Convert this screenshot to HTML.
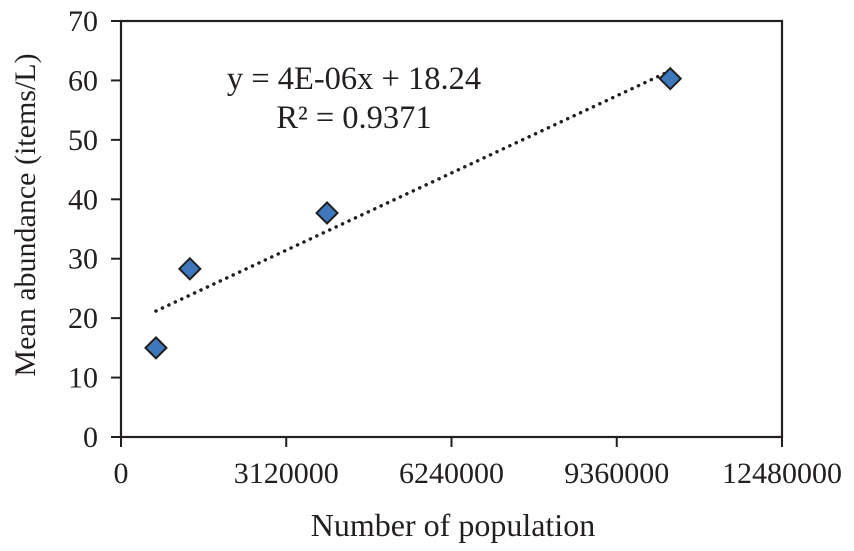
<!DOCTYPE html>
<html><head><meta charset="utf-8"><style>
body{margin:0;background:#fff;}
svg text{font-family:"Liberation Serif",serif;fill:#231f20;}
</style></head><body>
<svg id="chart" width="854" height="546" viewBox="0 0 854 546" xmlns="http://www.w3.org/2000/svg">
<rect x="121" y="21" width="661" height="416" fill="none" stroke="#231f20" stroke-width="2.2"/>
<g id="axes"></g>
<g id="trend"></g>
<g id="marks"></g>
<text x="354" y="89" font-size="32.5" text-anchor="middle">y = 4E-06x + 18.24</text>
<text x="354" y="128" font-size="32.5" text-anchor="middle">R² = 0.9371</text>
<text x="453" y="536" font-size="32" text-anchor="middle">Number of population</text>
<text transform="translate(35,215) rotate(-90)" font-size="30" text-anchor="middle">Mean abundance (items/L)</text>
</svg>
<script>
const xValues = [660000, 1300000, 3890000, 10370000];
const yValues = [15.0, 28.3, 37.7, 60.3];
const xTicks = [0, 3120000, 6240000, 9360000, 12480000];
const yTicks = [0, 10, 20, 30, 40, 50, 60, 70];

const X0=121, X1=782, Y0=437, Y1=21;
const xMax=12480000, yMax=70;
const sx=v=>X0+(X1-X0)*v/xMax;
const sy=v=>Y0-(Y0-Y1)*v/yMax;
const NS="http://www.w3.org/2000/svg";
function mk(tag,attrs,parent){const e=document.createElementNS(NS,tag);for(const k in attrs)e.setAttribute(k,attrs[k]);parent.appendChild(e);return e;}
const axes=document.getElementById('axes');
yTicks.forEach(t=>{
  const l=mk('line',{x1:X0-10,x2:X0,y1:sy(t),y2:sy(t),stroke:'#231f20','stroke-width':2},axes);
  
  
  const tx=mk('text',{x:X0-23,y:sy(t)+10,'font-size':30,'text-anchor':'end'},axes);
  tx.textContent=t;
  
  
});
xTicks.forEach(t=>{
  const l=mk('line',{x1:sx(t),x2:sx(t),y1:Y0,y2:Y0+10,stroke:'#231f20','stroke-width':2},axes);
  
  
  const tx=mk('text',{x:sx(t),y:Y0+46,'font-size':30,'text-anchor':'middle'},axes);
  tx.textContent=t;
  
  
});
const n=xValues.length;
const mx=xValues.reduce((a,b)=>a+b,0)/n, my=yValues.reduce((a,b)=>a+b,0)/n;
let sxy=0,sxx=0;for(let i=0;i<n;i++){sxy+=(xValues[i]-mx)*(yValues[i]-my);sxx+=(xValues[i]-mx)**2;}
const slope=sxy/sxx, icpt=my-slope*mx;
const xa=Math.min(...xValues), xb=Math.max(...xValues);
const tl=mk('line',{x1:sx(xa),y1:sy(slope*xa+icpt),x2:sx(xb),y2:sy(slope*xb+icpt),stroke:'#231f20','stroke-width':3.5,'stroke-dasharray':'0.1 7','stroke-linecap':'round'},document.getElementById('trend'));


const marks=document.getElementById('marks');
xValues.forEach((v,i)=>{
  const cx=sx(v), cy=sy(yValues[i]), r=10.5;
  const p=mk('polygon',{points:`${cx},${cy-r} ${cx+r},${cy} ${cx},${cy+r} ${cx-r},${cy}`,fill:'#3f77bd',stroke:'#1f1f1f','stroke-width':2},marks);
  
  
});
</script>
</body></html>
